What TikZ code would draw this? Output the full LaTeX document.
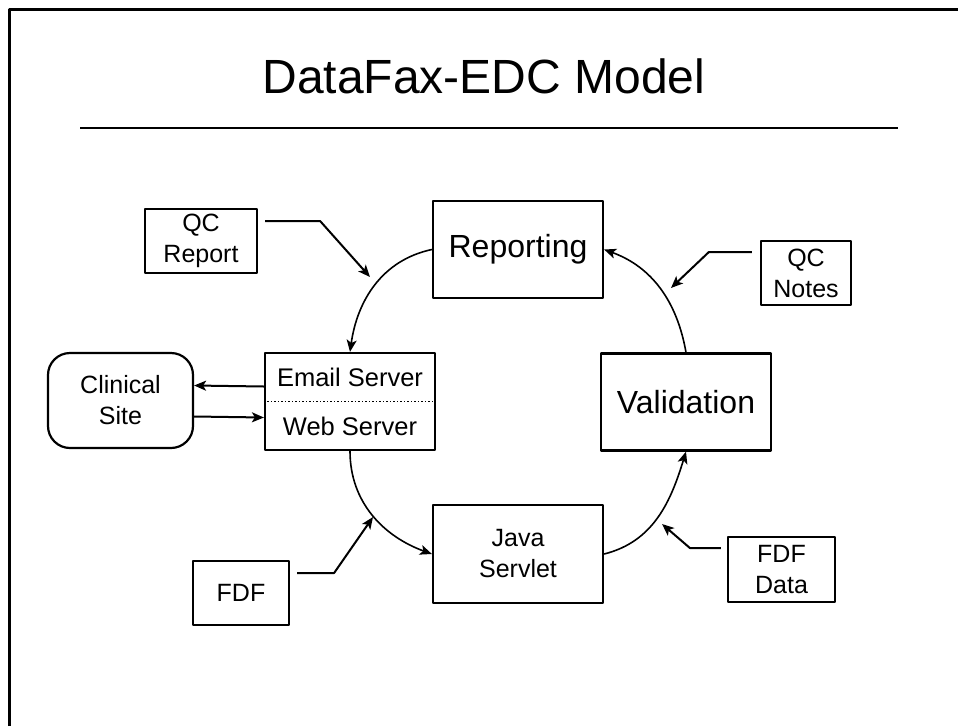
\documentclass[tikz,border=0pt]{standalone}
\usepackage{fontspec}
\setmainfont{Liberation Sans}
\usetikzlibrary{arrows.meta}
\begin{document}
\begin{tikzpicture}[x=1pt,y=1pt,line join=round,
		>={Stealth[length=12pt,width=10pt,inset=3pt]},
		box/.style={draw,line width=2.2pt,align=center,inner sep=0pt,font=\fontsize{25}{31}\selectfont},
		bigbox/.style={box,minimum width=170pt,minimum height=97pt,font=\fontsize{32}{38}\selectfont},
		feed/.style={->,line width=2pt},
		cycle/.style={->,line width=1.6pt}]
				\useasboundingbox (0,0) rectangle (958,-726);
				% frame and title
				\draw[line width=3pt] (9,-726)--(9,-9)--(958,-9);
				\node (title) at (484,-76) {\fontsize{48}{58}\selectfont DataFax-EDC Model};
				\draw[line width=2pt] (80,-128)--(898,-128);
				% main steps
				\node[bigbox] (rep) at (518,-249.5) {Reporting};
				\node[bigbox] (val) at (686,-402) {Validation};
				\node[box,minimum width=170pt,minimum height=98pt] (java) at (518,-554) {Java\\Servlet};
				\node[box,minimum width=170pt,minimum height=97pt] (srv) at (350,-401.5) {};
				\node[font=\fontsize{25.5}{31}\selectfont] (email) at (350,-377) {Email Server};
				\node[font=\fontsize{25.5}{31}\selectfont] (web) at (350,-426) {Web Server};
				\draw[dotted,line width=1.5pt] (srv.west)--(srv.east);
				\node[box,rounded corners=22pt,minimum width=145pt,minimum height=95pt] (site) at (120.5,-400.5) {Clinical\\Site};
				% inputs
				\node[box,minimum width=112pt,minimum height=64pt] (qcr) at (201,-241) {QC\\Report};
				\node[box,minimum width=90pt,minimum height=64pt] (qcn) at (806,-273) {QC\\Notes};
				\node[box,minimum width=96pt,minimum height=64pt] (fdf) at (241,-593) {FDF};
				\node[box,minimum width=107pt,minimum height=65pt] (fdfd) at (781.5,-569.5) {FDF\\Data};
				% the cycle
				\draw[cycle] (rep.west) to[out=192,in=82] (srv.north);
				\draw[cycle] (srv.south) to[out=270,in=160] (java.west);
				\draw[cycle] (java.east) to[out=14,in=253] (val.south);
				\draw[cycle] (val.north) to[out=100,in=340] (rep.east);
				% feeds into the cycle
				\coordinate (inqcr) at (370,-277);
				\coordinate (inqcn) at (671,-288);
				\coordinate (infdf) at (373,-517);
				\coordinate (infdfd) at (662,-524);
				\draw[feed] ([shift={(7,20)}]qcr.east)--++(55,0)--(inqcr);
				\draw[feed] ([shift={(-8,21)}]qcn.west)--++(-43,0)--(inqcn);
				\draw[feed] ([shift={(7,20)}]fdf.east)--++(37,0)--(infdf);
				\draw[feed] ([shift={(-6,21.5)}]fdfd.west)--++(-31,0)--(infdfd);
				% site links
				\draw[feed] ([yshift=15pt]srv.west)--([yshift=15pt]site.east);
				\draw[feed] ([yshift=-16pt]site.east)--([yshift=-16pt]srv.west);
		\end{tikzpicture}
\end{document}
